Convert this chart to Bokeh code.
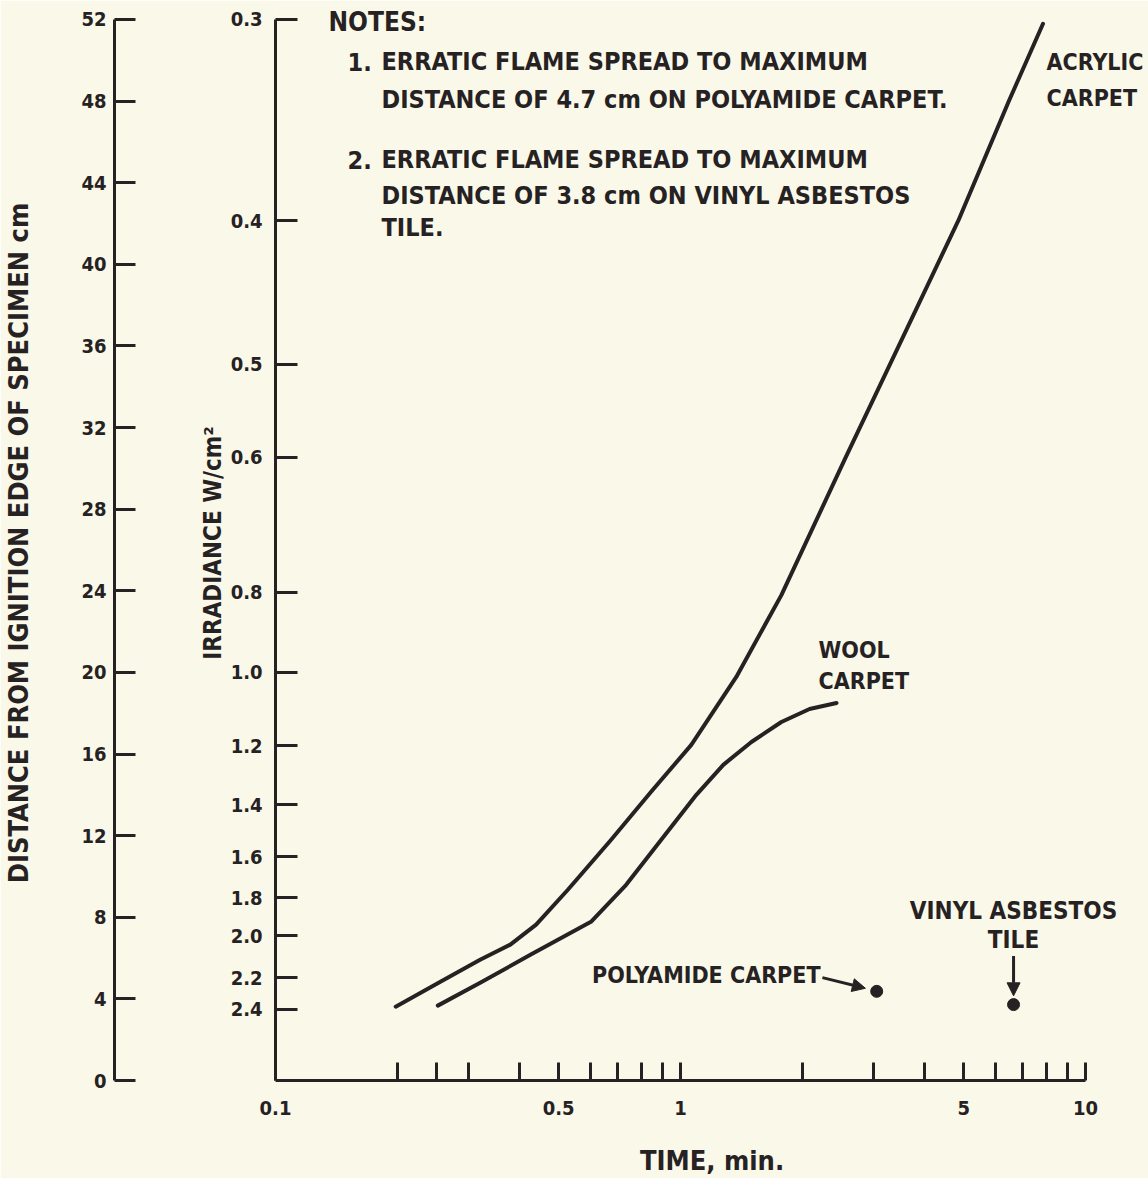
from bokeh.plotting import figure
from bokeh.models import Range1d, LinearAxis, LogAxis, FixedTicker, Label, Arrow, NormalHead
from bokeh.embed import file_html
from bokeh.resources import INLINE

# ---------------- data ----------------
acrylic_time = [0.198, 0.256, 0.32, 0.38, 0.44, 0.527, 0.674, 0.846, 1.063, 1.373, 1.774, 2.55, 3.28, 4.85, 6.47, 7.85]
acrylic_dist = [3.62, 4.85, 5.92, 6.66, 7.64, 9.35, 11.80, 14.15, 16.45, 19.78, 23.79, 30.49, 35.05, 42.14, 48.02, 51.79]

wool_time = [0.2516, 0.321, 0.427, 0.601, 0.734, 0.896, 1.094, 1.275, 1.496, 1.774, 2.082, 2.427]
wool_dist = [3.67, 4.80, 6.17, 7.78, 9.59, 11.80, 14.0, 15.47, 16.59, 17.57, 18.21, 18.50]

polyamide_time = [3.05]
polyamide_dist = [4.37]
vinyl_time = [6.64]
vinyl_dist = [3.72]

dist_ticks = [0, 4, 8, 12, 16, 20, 24, 28, 32, 36, 40, 44, 48, 52]
irr_labels = ["0.3", "0.4", "0.5", "0.6", "0.8", "1.0", "1.2", "1.4", "1.6", "1.8", "2.0", "2.2", "2.4"]
irr_dist = [52.0, 42.14, 35.10, 30.54, 23.94, 20.02, 16.40, 13.51, 10.96, 8.96, 7.10, 5.04, 3.48]
time_ticks = [0.1, 0.2, 0.25, 0.3, 0.4, 0.5, 0.6, 0.7, 0.8, 0.9, 1, 2, 3, 4, 5, 6, 7, 8, 9, 10]
time_labeled = {0.1: "0.1", 0.5: "0.5", 1: "1", 5: "5", 10: "10"}

notes = [
    ("NOTES:", None),
    ("ERRATIC FLAME SPREAD TO MAXIMUM", "1."),
    ("DISTANCE OF 4.7 cm ON POLYAMIDE CARPET.", None),
    ("ERRATIC FLAME SPREAD TO MAXIMUM", "2."),
    ("DISTANCE OF 3.8 cm ON VINYL ASBESTOS", None),
    ("TILE.", None),
]

# ---------------- style ----------------
FONT = "DejaVu Sans Condensed"
INK = "#262223"
BG = "#faf8e8"

p = figure(width=1148, height=1178, x_axis_type="log",
           x_range=Range1d(0.1, 14.30), y_range=Range1d(0, 52.686),
           x_axis_location=None, y_axis_location=None,
           output_backend="svg", toolbar_location=None,
           min_border_left=0, min_border_right=0, min_border_top=5, min_border_bottom=97,
           background_fill_color=BG, border_fill_color=BG, outline_line_color=None)
p.xgrid.grid_line_color = None
p.ygrid.grid_line_color = None


def style_axis(ax, tick_in, label_size, standoff):
    ax.axis_line_color = INK
    ax.axis_line_width = 3
    ax.major_tick_line_color = INK
    ax.major_tick_line_width = 3
    ax.major_tick_in = tick_in
    ax.major_tick_out = 0
    ax.minor_tick_line_color = None
    ax.major_label_text_font = FONT
    ax.major_label_text_font_style = "bold"
    ax.major_label_text_font_size = label_size
    ax.major_label_text_color = INK
    ax.major_label_standoff = standoff
    ax.axis_label_text_font = FONT
    ax.axis_label_text_font_style = "bold"
    ax.axis_label_text_color = INK


# x axis (log time)
xaxis = LogAxis(ticker=FixedTicker(ticks=time_ticks), bounds=(0.1, 10),
                major_label_overrides={t: time_labeled.get(t, "") for t in time_ticks},
                axis_label="TIME, min.")
style_axis(xaxis, 18, "20px", 20)
xaxis.axis_label_text_font_size = "27px"
xaxis.axis_label_standoff = 27
p.add_layout(xaxis, "below")

# irradiance axis (inner left)
irr_axis = LinearAxis(ticker=FixedTicker(ticks=irr_dist), bounds=(0, 52),
                      major_label_overrides=dict(zip(irr_dist, irr_labels)),
                      axis_label="IRRADIANCE W/cm²")
style_axis(irr_axis, 22, "20px", 13)
irr_axis.axis_label_text_font_size = "24px"
irr_axis.axis_label_standoff = 1
p.add_layout(irr_axis, "left")

# invisible spacer between the two vertical scales
spacer = LinearAxis(ticker=FixedTicker(ticks=[50]), major_label_overrides={50: ""},
                    axis_line_color=None, major_tick_line_color=BG, major_tick_line_width=1,
                    minor_tick_line_color=None, major_tick_in=0, major_tick_out=81,
                    minor_tick_out=0, major_label_standoff=0)
p.add_layout(spacer, "left")

# distance axis (outer left)
dist_axis = LinearAxis(ticker=FixedTicker(ticks=dist_ticks), bounds=(0, 52),
                       axis_label="DISTANCE FROM IGNITION EDGE OF SPECIMEN cm")
style_axis(dist_axis, 21, "20px", 8)
dist_axis.axis_label_text_font_size = "27px"
dist_axis.axis_label_standoff = 44
p.add_layout(dist_axis, "left")

# ---------------- curves and points ----------------
p.line(acrylic_time, acrylic_dist, line_color=INK, line_width=4, line_cap="round", line_join="round")
p.line(wool_time, wool_dist, line_color=INK, line_width=4, line_cap="round", line_join="round")
p.scatter(polyamide_time, polyamide_dist, size=12, fill_color=INK, line_color=INK)
p.scatter(vinyl_time, vinyl_dist, size=12, fill_color=INK, line_color=INK)


# ---------------- annotations ----------------
def label(text, sx, sy, size="25px", align="left"):
    p.add_layout(Label(x=sx, y=sy, x_units="screen", y_units="screen", text=text,
                       text_font=FONT, text_font_style="bold", text_font_size=size,
                       text_color=INK, text_align=align, text_baseline="alphabetic"))


# notes block (screen px relative to the frame's lower-left corner)
note_y = [1059, 1019, 981, 921, 885, 853]
for (txt, num), sy in zip(notes, note_y):
    if txt == "NOTES:":
        label(txt, 53, sy, "26px")
    else:
        if num:
            label(num, 72, sy)
        label(txt, 106, sy)

label("ACRYLIC", 771, 1019, "23px")
label("CARPET", 771, 983, "23px")
label("WOOL", 543, 431, "23px")
label("CARPET", 543, 400, "23px")
label("POLYAMIDE CARPET", 545, 106, "23px", align="right")
label("VINYL ASBESTOS", 738, 170, "24px", align="center")
label("TILE", 738, 141, "24px", align="center")

head = dict(size=13, fill_color=INK, line_color=INK, line_width=1)
p.add_layout(Arrow(end=NormalHead(**head), x_start=2.24, y_start=5.04,
                   x_end=2.86, y_end=4.52, line_color=INK, line_width=3))
p.add_layout(Arrow(end=NormalHead(**head), x_start=vinyl_time[0], y_start=6.1,
                   x_end=vinyl_time[0], y_end=4.15, line_color=INK, line_width=3))

open("out.html", "w").write(file_html(p, INLINE))
